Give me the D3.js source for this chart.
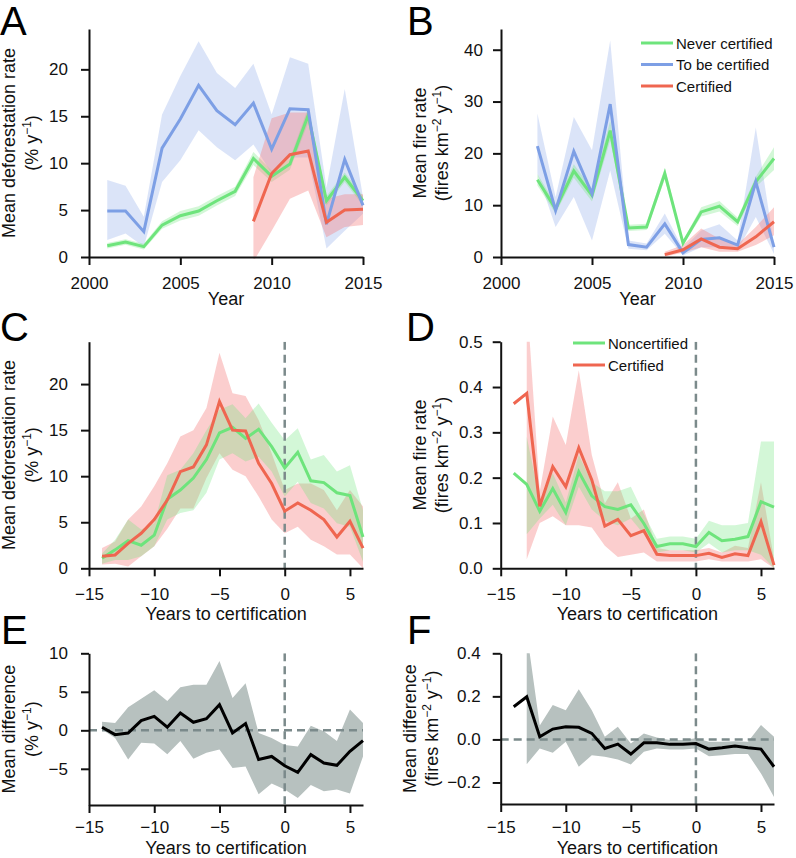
<!DOCTYPE html>
<html><head><meta charset="utf-8">
<script src="https://cdn.jsdelivr.net/npm/d3@7"></script>
<style>body{margin:0;background:#fff}</style>
</head><body><svg id="c" width="796" height="858"></svg>
<script>
// ---------- DATA ----------
const yearsA = [2001,2002,2003,2004,2005,2006,2007,2008,2009,2010,2011,2012,2013,2014,2015];
const aNeverMean = [1.2,1.6,1.1,3.4,4.4,4.9,6.0,7.0,10.5,8.6,9.9,15.1,6.0,8.5,6.0];
const aNeverLo   = [0.9,1.3,0.8,3.0,3.9,4.4,5.5,6.5,9.8,8.0,9.3,14.3,5.5,8.0,5.5];
const aNeverHi   = [1.5,1.9,1.4,3.8,4.9,5.4,6.5,7.5,11.2,9.2,10.5,15.9,6.5,9.0,6.5];
const aToMean = [4.9,4.9,2.7,11.6,14.7,18.3,15.6,14.1,16.4,11.5,15.8,15.7,3.5,10.4,5.5];
const aToHi   = [8.2,7.6,4.3,15.2,19.3,23.0,19.6,18.0,20.6,15.2,21.3,20.6,7.4,17.9,6.4];
const aToLo   = [1.8,2.5,1.1,8.0,10.3,13.5,11.7,10.3,12.0,8.9,10.6,10.6,0.9,2.8,4.6];
const yearsACert = [2009,2010,2011,2012,2013,2014,2015];
const aCertMean = [3.8,8.9,10.9,11.3,3.7,5.0,5.1];
const aCertHi   = [8.5,14.8,15.4,15.4,6.2,6.7,6.7];
const aCertLo   = [-0.5,2.8,6.2,7.1,2.1,3.2,3.4];

const yearsB = [2002,2003,2004,2005,2006,2007,2008,2009,2010,2011,2012,2013,2014,2015];
const bNeverMean = [14.9,9.3,16.6,11.9,24.4,5.6,5.8,16.1,2.7,8.7,9.8,6.8,14.5,19.0];
const bNeverLo   = [13.8,8.4,15.3,10.7,22.5,5.0,5.2,15.0,2.2,7.8,8.8,6.0,13.5,16.8];
const bNeverHi   = [16.0,10.2,17.9,13.1,26.3,6.2,6.4,17.2,3.2,9.6,10.8,7.6,15.5,21.2];
const bToMean = [21.4,9.0,20.4,12.2,29.5,2.4,1.9,6.4,0.8,3.4,3.7,2.3,14.5,1.9];
const bToHi   = [27.7,11.6,27.0,20.6,41.8,3.2,2.6,8.4,1.6,5.1,6.3,3.2,25.0,2.3];
const bToLo   = [16.1,5.8,11.6,3.2,16.7,1.6,1.3,4.5,0.3,1.9,1.9,1.3,7.7,0.6];
const yearsBCert = [2009,2010,2011,2012,2013,2014,2015];
const bCertMean = [0.45,1.4,3.5,1.9,1.6,3.9,6.8];
const bCertHi   = [1.0,2.3,5.5,3.5,2.4,5.8,9.6];
const bCertLo   = [0.1,0.8,1.9,1.0,1.0,2.3,4.2];

const relYears = [-14,-13,-12,-11,-10,-9,-8,-7,-6,-5,-4,-3,-2,-1,0,1,2,3,4,5,6];
const relYearsBand = [-13,-12,-11,-10,-9,-8,-7,-6,-5,-4,-3,-2,-1,0,1,2,3,4,5,6];

const cCertMean = [1.3,1.45,2.7,3.8,5.3,7.4,10.5,11.0,13.4,18.1,15.0,14.9,11.4,9.2,6.2,7.1,6.3,5.3,3.4,5.1,2.2];
const cCertHi   = [2.2,2.9,5.3,6.7,8.9,11.4,14.3,15.0,17.4,23.4,19.0,18.7,16.1,12.5,8.5,9.2,9.2,8.5,6.3,8.5,6.7];
const cCertLo   = [0.4,0.5,0.2,1.3,2.4,4.3,6.5,6.5,9.8,12.5,10.7,10.0,7.8,5.3,3.8,4.5,3.1,2.4,1.5,1.5,0.0];
const cNonMean = [1.1,2.0,3.0,2.5,3.6,7.5,8.5,9.8,11.8,14.7,15.3,14.1,15.1,13.2,10.9,12.6,9.5,9.3,8.2,7.9,3.4];
const cNonHi   = [1.6,3.1,5.3,4.2,4.9,10.1,10.7,12.5,15.0,17.2,17.8,16.3,17.9,15.8,13.9,15.2,11.8,12.3,10.5,11.2,6.3];
const cNonLo   = [0.5,0.9,0.9,1.3,2.4,5.3,6.0,6.3,8.2,11.8,12.5,11.6,12.1,10.5,7.8,9.4,7.1,6.5,4.9,4.5,0.7];

const dCertMean = [0.363,0.386,0.137,0.224,0.180,0.266,0.195,0.093,0.108,0.072,0.083,0.031,0.028,0.028,0.028,0.033,0.024,0.032,0.028,0.103,0.007];
const dNonMean  = [0.210,0.185,0.126,0.176,0.123,0.213,0.160,0.136,0.130,0.140,0.099,0.048,0.054,0.054,0.048,0.079,0.061,0.064,0.070,0.147,0.135];
const dCertHi = [0.6,0.17,0.335,0.272,0.437,0.25,0.143,0.19,0.11,0.13,0.045,0.04,0.04,0.04,0.045,0.035,0.05,0.045,0.19,0.02];
const dCertLo = [0.02,0.1,0.115,0.095,0.095,0.09,0.05,0.025,0.03,0.035,0.015,0.015,0.015,0.015,0.02,0.015,0.015,0.015,0.02,0.0];
const dNonHi  = [0.29,0.15,0.21,0.145,0.25,0.19,0.17,0.17,0.18,0.12,0.065,0.07,0.07,0.065,0.105,0.095,0.095,0.1,0.28,0.28];
const dNonLo  = [0.075,0.11,0.14,0.095,0.18,0.13,0.105,0.095,0.11,0.075,0.035,0.04,0.04,0.035,0.055,0.035,0.04,0.04,0.03,0.0];

const eMean = [0.4,-0.56,-0.35,1.25,1.8,0.4,2.25,1.04,1.5,3.33,-0.35,0.87,-3.8,-3.4,-4.6,-5.45,-3.16,-4.24,-4.55,-2.73,-1.34];
const eHi   = [1.1,0.95,3.0,4.1,5.2,3.8,5.6,5.9,5.9,9.0,4.2,6.1,-0.35,-1.0,-1.9,-2.1,0.6,-0.13,-1.4,2.7,0.95];
const eLo   = [0.1,-1.0,-3.8,-1.6,-1.7,-3.1,-1.4,-3.7,-2.9,-2.5,-4.9,-4.7,-8.3,-6.9,-7.7,-8.8,-7.1,-7.9,-7.7,-8.2,-3.4];

const fMean = [0.152,0.198,0.012,0.048,0.059,0.056,0.028,-0.042,-0.022,-0.068,-0.016,-0.016,-0.023,-0.023,-0.019,-0.045,-0.039,-0.031,-0.039,-0.045,-0.127];
const fHi = [0.5,0.065,0.16,0.136,0.233,0.136,0.012,0.059,-0.019,0.028,0.009,-0.003,-0.003,0.005,-0.011,-0.011,-0.008,-0.011,0.067,0.012];
const fLo = [-0.115,-0.042,-0.062,-0.011,-0.127,-0.073,-0.081,-0.093,-0.116,-0.057,-0.042,-0.047,-0.047,-0.042,-0.078,-0.073,-0.068,-0.068,-0.158,-0.267];

const yearTicks = [2000,2005,2010,2015];
const relTicks = [-15,-10,-5,0,5];
const legendB = ["Never certified","To be certified","Certified"];
const legendD = ["Noncertified","Certified"];

// ---------- STYLE ----------
const FONT = "'Liberation Sans', Arial, Helvetica, sans-serif";
const GREEN = "#6ee47c", BLUE = "#7d9fe5", RED = "#ef6650";
const GREEN_BAND = "rgba(110,228,124,0.30)", BLUE_BAND = "rgba(125,159,229,0.28)", RED_BAND = "rgba(244,126,126,0.38)";
const GRAY_BAND = "#b7c1bf", DASH = "#7b8a8b";

const svg = d3.select("#c").style("font-family", FONT);
svg.append("rect").attr("width",796).attr("height",858).attr("fill","#fff");
let clipId = 0;

function zip(xs, a, b) { return xs.map((x,i)=>({x, a:a[i], b: b ? b[i] : null})); }

function makePanel(o) {
  const x = d3.scaleLinear().domain(o.xDomain).range([o.left, o.right]);
  const y = d3.scaleLinear().domain(o.yDomain).range([o.bottom, o.top]);
  const g = svg.append("g");
  const id = "clip" + (clipId++);
  svg.append("clipPath").attr("id", id).append("rect")
     .attr("x", o.left - 4).attr("y", o.top).attr("width", o.right - o.left + 8).attr("height", o.bottom - o.top + 2);
  const plot = g.append("g").attr("clip-path", `url(#${id})`);
  const xa = g.append("g").attr("transform", `translate(0,${o.bottom})`)
    .call(d3.axisBottom(x).tickValues(o.xTicks).tickSize(8).tickSizeOuter(0).tickPadding(o.xPad || 12).tickFormat(o.xFmt || d3.format("d")));
  const ya = g.append("g").attr("transform", `translate(${o.left},0)`)
    .call(d3.axisLeft(y).tickValues(o.yTicks).tickSize(8).tickSizeOuter(0).tickPadding(o.yPad).tickFormat(o.yFmt));
  [xa, ya].forEach(a => {
    a.select(".domain").attr("stroke", "#111").attr("stroke-width", 2);
    a.selectAll(".tick line").attr("stroke", "#111").attr("stroke-width", 2);
    a.selectAll(".tick text").attr("font-size", 17).attr("fill", "#111").attr("font-family", FONT);
  });
  g.append("text").attr("x", (o.left + o.right) / 2 + (o.xlabShift||0)).attr("y", o.bottom + o.xlabOff)
    .attr("text-anchor", "middle").attr("font-size", 18).attr("fill", "#111").text(o.xlab);
  const cy = (o.top + o.bottom) / 2;
  g.append("text").attr("transform", `translate(${o.left + o.ylabOff1},${cy}) rotate(-90)`)
    .attr("text-anchor", "middle").attr("font-size", 18).attr("fill", "#111").text(o.ylab1);
  const t2 = g.append("text").attr("transform", `translate(${o.left + o.ylabOff2},${cy}) rotate(-90)`)
    .attr("text-anchor", "middle").attr("font-size", 18).attr("fill", "#111");
  o.ylab2.forEach(p => {
    if (p.sup) t2.append("tspan").attr("dy", -7).attr("font-size", 12).text(p.t);
    else if (p.after) t2.append("tspan").attr("dy", 7).text(p.t);
    else t2.append("tspan").text(p.t);
  });
  svg.append("text").attr("x", o.letterX).attr("y", o.letterY).attr("font-size", 40).attr("fill", "#000").text(o.letter);
  return {x, y, plot, g};
}

function band(p, xs, lo, hi, fill) {
  const area = d3.area().x(d => p.x(d.x)).y0(d => p.y(d.a)).y1(d => p.y(d.b));
  p.plot.append("path").datum(zip(xs, lo, hi)).attr("d", area).attr("fill", fill).attr("stroke", "none");
}
function line(p, xs, vals, color) {
  const ln = d3.line().x(d => p.x(d.x)).y(d => p.y(d.a));
  p.plot.append("path").datum(zip(xs, vals)).attr("d", ln).attr("fill", "none")
    .attr("stroke", color).attr("stroke-width", 3).attr("stroke-linejoin", "miter");
}
function vdash(p, xv) {
  p.plot.append("line").attr("x1", p.x(xv)).attr("x2", p.x(xv)).attr("y1", p.y.range()[1]).attr("y2", p.y.range()[0])
    .attr("stroke", DASH).attr("stroke-width", 2.5).attr("stroke-dasharray", "8,5");
}
function hdash(p, yv) {
  p.plot.append("line").attr("x1", p.x.range()[0]).attr("x2", p.x.range()[1]).attr("y1", p.y(yv)).attr("y2", p.y(yv))
    .attr("stroke", DASH).attr("stroke-width", 2.5).attr("stroke-dasharray", "8,5");
}
function legend(items, colors, lx, ly, dy) {
  items.forEach((t, i) => {
    svg.append("line").attr("x1", lx).attr("x2", lx + 32).attr("y1", ly + i*dy).attr("y2", ly + i*dy)
      .attr("stroke", colors[i]).attr("stroke-width", 3);
    svg.append("text").attr("x", lx + 35).attr("y", ly + i*dy + 5.5).attr("font-size", 15).attr("fill", "#111").text(t);
  });
}

const pctLab = [{t:"(% y"},{t:"\u22121",sup:true},{t:")",after:true}];
const fireLab = [{t:"(fires km"},{t:"\u22122",sup:true},{t:" y",after:true},{t:"\u22121",sup:true},{t:")",after:true}];

// ---------- A ----------
const A = makePanel({left:89,right:363,top:29,bottom:257,xDomain:[2000,2015],yDomain:[0,24.3],
  xTicks:yearTicks,yTicks:[0,5,10,15,20],yFmt:d3.format("d"),yPad:13,
  xlab:"Year",xlabOff:48,ylab1:"Mean deforestation rate",ylab2:pctLab,ylabOff1:-74,ylabOff2:-51,
  letter:"A",letterX:0,letterY:35});
band(A, yearsA, aToLo, aToHi, BLUE_BAND);
band(A, yearsA, aNeverLo, aNeverHi, GREEN_BAND);
band(A, yearsACert, aCertLo, aCertHi, RED_BAND);
line(A, yearsA, aNeverMean, GREEN);
line(A, yearsA, aToMean, BLUE);
line(A, yearsACert, aCertMean, RED);

// ---------- B ----------
const B = makePanel({left:501,right:774,top:29,bottom:257,xDomain:[2000,2015],yDomain:[0,44],
  xTicks:yearTicks,yTicks:[0,10,20,30,40],yFmt:d3.format("d"),yPad:10,
  xlab:"Year",xlabOff:48,ylab1:"Mean fire rate",ylab2:fireLab,ylabOff1:-75,ylabOff2:-53,
  letter:"B",letterX:407,letterY:35});
band(B, yearsB, bToLo, bToHi, BLUE_BAND);
band(B, yearsB, bNeverLo, bNeverHi, GREEN_BAND);
band(B, yearsBCert, bCertLo, bCertHi, RED_BAND);
line(B, yearsB, bNeverMean, GREEN);
line(B, yearsB, bToMean, BLUE);
line(B, yearsBCert, bCertMean, RED);
legend(legendB, [GREEN, BLUE, RED], 641, 43, 21.5);

// ---------- C ----------
const C = makePanel({left:89,right:363,top:341.7,bottom:568.3,xDomain:[-15,6],yDomain:[0,24.6],
  xTicks:relTicks,yTicks:[0,5,10,15,20],yFmt:d3.format("d"),yPad:13,
  xlab:"Years to certification",xlabOff:52,ylab1:"Mean deforestation rate",ylab2:pctLab,ylabOff1:-74,ylabOff2:-51,
  letter:"C",letterX:0,letterY:341});
band(C, relYears, cCertLo, cCertHi, RED_BAND);
band(C, relYears, cNonLo, cNonHi, GREEN_BAND);
vdash(C, 0);
line(C, relYears, cNonMean, GREEN);
line(C, relYears, cCertMean, RED);

// ---------- D ----------
const D = makePanel({left:500.7,right:774,top:341.7,bottom:568.3,xDomain:[-15,6],yDomain:[0,0.5],
  xTicks:relTicks,yTicks:[0,0.1,0.2,0.3,0.4,0.5],yFmt:d3.format(".1f"),yPad:10,
  xlab:"Years to certification",xlabOff:52,ylab1:"Mean fire rate",ylab2:fireLab,ylabOff1:-75,ylabOff2:-53,
  letter:"D",letterX:406,letterY:341});
band(D, relYearsBand, dCertLo, dCertHi, RED_BAND);
band(D, relYearsBand, dNonLo, dNonHi, GREEN_BAND);
vdash(D, 0);
line(D, relYears, dNonMean, GREEN);
line(D, relYears, dCertMean, RED);
legend(legendD, [GREEN, RED], 573, 343, 22);

// ---------- E ----------
const E = makePanel({left:89,right:363,top:653.3,bottom:805,xDomain:[-15,6],yDomain:[-9.7,10],
  xTicks:relTicks,yTicks:[-5,0,5,10],yFmt:d3.format("d"),yPad:13,xPad:8,
  xlab:"Years to certification",xlabOff:49,ylab1:"Mean difference",ylab2:pctLab,ylabOff1:-74,ylabOff2:-51,
  letter:"E",letterX:1,letterY:644});
band(E, relYears, eLo, eHi, GRAY_BAND);
vdash(E, 0); hdash(E, 0);
line(E, relYears, eMean, "#000");

// ---------- F ----------
const F = makePanel({left:500.7,right:774,top:653.3,bottom:804,xDomain:[-15,6],yDomain:[-0.3,0.4],
  xTicks:relTicks,yTicks:[-0.2,0,0.2,0.4],yFmt:d3.format(".1f"),yPad:12,xPad:9,
  xlab:"Years to certification",xlabOff:50,ylab1:"Mean difference",ylab2:fireLab,ylabOff1:-85,ylabOff2:-63,
  letter:"F",letterX:407,letterY:644});
band(F, relYearsBand, fLo, fHi, GRAY_BAND);
vdash(F, 0); hdash(F, 0);
line(F, relYears, fMean, "#000");
</script></body></html>
